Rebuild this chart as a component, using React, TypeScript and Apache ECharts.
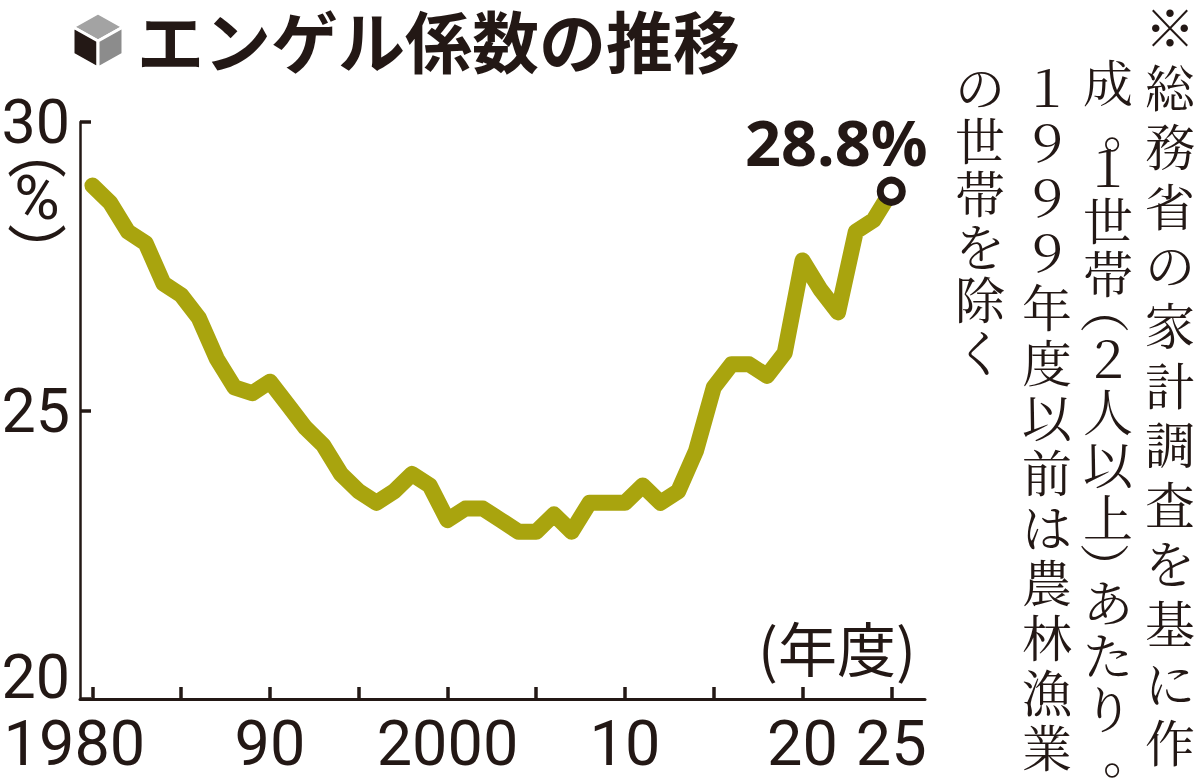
import React, { useEffect, useRef } from "react";
import * as echarts from "echarts";

// ---- data ----
const years = [
  1980, 1981, 1982, 1983, 1984, 1985, 1986, 1987, 1988, 1989,
  1990, 1991, 1992, 1993, 1994, 1995, 1996, 1997, 1998, 1999,
  2000, 2001, 2002, 2003, 2004, 2005, 2006, 2007, 2008, 2009,
  2010, 2011, 2012, 2013, 2014, 2015, 2016, 2017, 2018, 2019,
  2020, 2021, 2022, 2023, 2024, 2025,
];
const engel = [
  28.9, 28.6, 28.1, 27.9, 27.2, 27.0, 26.6, 25.9, 25.4, 25.3,
  25.5, 25.1, 24.7, 24.4, 23.9, 23.6, 23.4, 23.6, 23.9, 23.7,
  23.1, 23.3, 23.3, 23.1, 22.9, 22.9, 23.2, 22.9, 23.4, 23.4,
  23.4, 23.7, 23.4, 23.6, 24.3, 25.4, 25.8, 25.8, 25.6, 26.0,
  27.6, 27.1, 26.7, 28.1, 28.3, 28.8,
];
const yTicks = [20, 25, 30];
const xTickYears = [1980, 1985, 1990, 1995, 2000, 2005, 2010, 2015, 2020, 2025];
const xLabelYears = [1980, 1990, 2000, 2010, 2020, 2025];
const xLabelTexts = ["1980", "90", "2000", "10", "20", "25"];
const titleText = "エンゲル係数の推移";
const unitText = "(年度)";
const yUnitText = "(%)";
const lastLabel = "28.8%";
const noteColumns = [
  "※総務省の家計調査を基に作",
  "成。１世帯（２人以上）あたり。",
  "１９９９年度以前は農林漁業",
  "の世帯を除く",
];

// ---- layout / style ----
const INK = "#231815";
const OLIVE = "#a9a40e";
const NUM_FONT = 'Roboto, "Noto Sans", sans-serif';
const CJK_SANS = '"Noto Sans CJK JP", "Noto Sans", sans-serif';
const CJK_NOTE = '"Noto Serif CJK JP", "Noto Sans CJK JP", serif';
const X_NUM_SIZE = 63;
const Y_NUM_SIZE = 61;
const NOTE_SIZE = 50;
const NOTE_LAYOUT = [
  { x: 1170, y0: 25, full: 59.6, half: 59.6 },
  { x: 1108, y0: 80, full: 53, half: 32 },
  { x: 1047, y0: 85, full: 55, half: 55 },
  { x: 980, y0: 85, full: 53, half: 53 },
];
// offsets used to set punctuation in vertical writing
const PUNCT_OFFSET: Record<string, { dx: number; dy: number; rot: number }> = {
  "。": { dx: 20, dy: 2, rot: 0 },
  "（": { dx: 0, dy: -5, rot: -Math.PI / 2 },
  "）": { dx: 0, dy: 10, rot: -Math.PI / 2 },
};

const VERTICAL_FORM: Record<string, string> = { "(": "︵", ")": "︶" };

function isPunct(c: string) {
  return c === "。" || c === "（" || c === "）";
}

function noteGraphics() {
  const out: any[] = [];
  noteColumns.forEach((col, ci) => {
    const L = NOTE_LAYOUT[ci];
    const chars = Array.from(col);
    let cy = L.y0;
    chars.forEach((c, i) => {
      if (i > 0) {
        const a1 = isPunct(chars[i - 1]) ? L.half : L.full;
        const a2 = isPunct(c) ? L.half : L.full;
        cy += (a1 + a2) / 2;
      }
      const off = PUNCT_OFFSET[c] || { dx: 0, dy: 0, rot: 0 };
      out.push({
        type: "text",
        x: L.x + off.dx,
        y: cy + off.dy,
        rotation: off.rot,
        style: {
          text: c,
          fill: INK,
          font: `normal ${NOTE_SIZE}px ${CJK_NOTE}`,
          textAlign: "center",
          textVerticalAlign: "middle",
        },
      });
    });
  });
  return out;
}

function yUnitGraphic() {
  const chars = Array.from(yUnitText);
  const text = chars
    .map((c) => (VERTICAL_FORM[c] ? `{p|${VERTICAL_FORM[c]}}` : `{c|${c}}`))
    .join("\n");
  return {
    type: "text",
    x: 37,
    y: 130,
    style: {
      text,
      fill: INK,
      font: `normal 60px ${CJK_SANS}`,
      textAlign: "center",
      textVerticalAlign: "top",
      rich: {
        p: { fontSize: 60, fontFamily: CJK_SANS, color: INK, lineHeight: 30, align: "center" },
        c: { fontSize: 62, fontFamily: NUM_FONT, color: INK, lineHeight: 74, align: "center" },
      },
    },
  };
}

function cubeIcon() {
  const cx = 98, top = 13, bot = 68, l = 73, r = 123, uy = 27, ly = 54, my = 41;
  const stroke = { stroke: "#ffffff", lineWidth: 3, lineJoin: "round" };
  return [
    { type: "polygon", shape: { points: [[cx, top], [r, uy], [cx, my], [l, uy]] }, style: { fill: "#a3a3a3", ...stroke } },
    { type: "polygon", shape: { points: [[l, uy], [cx, my], [cx, bot], [l, ly]] }, style: { fill: INK, ...stroke } },
    { type: "polygon", shape: { points: [[cx, my], [r, uy], [r, ly], [cx, bot]] }, style: { fill: "#8c8c8c", ...stroke } },
  ];
}

export default function App() {
  const ref = useRef<HTMLDivElement>(null);
  useEffect(() => {
    if (!ref.current) return;
    const chart = echarts.init(ref.current, undefined, { renderer: "svg" });
    const lineData = years.map((y, i) => [y, engel[i]]);
    const last = [years[years.length - 1], engel[engel.length - 1]];
    const option: any = {
      animation: false,
      backgroundColor: "#ffffff",
      grid: { left: 80, right: 275, top: 122, bottom: 80, containLabel: false, outerBoundsMode: "none" },
      xAxis: {
        type: "value",
        min: 1979.3,
        max: 2026.9,
        splitLine: { show: false },
        axisLine: { show: true, onZero: false, lineStyle: { color: INK, width: 3 } },
        axisTick: {
          show: true,
          inside: true,
          length: 12,
          customValues: xTickYears,
          lineStyle: { color: INK, width: 3.5 },
        },
        axisLabel: {
          show: true,
          customValues: xLabelYears,
          margin: 13,
          color: INK,
          fontSize: X_NUM_SIZE,
          fontFamily: NUM_FONT,
          hideOverlap: false,
          formatter: (v: number) => {
            const idx = xLabelYears.indexOf(Math.round(v));
            const t = idx >= 0 ? xLabelTexts[idx] : "";
            return idx === 0 ? `{s|${t}}` : t;
          },
          rich: {
            s: { fontSize: X_NUM_SIZE, fontFamily: NUM_FONT, color: INK, padding: [0, 36, 0, 0] },
          },
        },
      },
      yAxis: {
        type: "value",
        min: yTicks[0],
        max: yTicks[yTicks.length - 1],
        interval: 5,
        splitLine: { show: false },
        axisLine: { show: true, lineStyle: { color: INK, width: 2.5 } },
        axisTick: { show: true, inside: true, length: 11, lineStyle: { color: INK, width: 3.5 } },
        axisLabel: {
          show: true,
          margin: 10,
          color: INK,
          fontSize: Y_NUM_SIZE,
          fontFamily: NUM_FONT,
          formatter: (v: number) => (v === yTicks[0] ? `{b|${v}}` : `{a|${v}}`),
          rich: {
            a: { fontSize: Y_NUM_SIZE, fontFamily: NUM_FONT, color: INK },
            b: { fontSize: Y_NUM_SIZE, fontFamily: NUM_FONT, color: INK, padding: [0, 0, 44, 0] },
          },
        },
      },
      series: [
        {
          type: "line",
          data: lineData,
          symbol: "none",
          lineStyle: { color: OLIVE, width: 16, cap: "round", join: "round" },
          z: 2,
        },
        {
          type: "scatter",
          data: [last],
          symbol: "circle",
          symbolSize: 22,
          itemStyle: { color: "#ffffff", borderColor: INK, borderWidth: 7, opacity: 1 },
          label: {
            show: true,
            position: "top",
            distance: 4,
            offset: [-55, 0],
            formatter: lastLabel,
            color: INK,
            fontSize: 63,
            fontWeight: "bold",
            fontFamily: '"Noto Sans", sans-serif',
          },
          z: 5,
        },
      ],
      graphic: [
        ...cubeIcon(),
        {
          type: "text",
          x: 137,
          y: 38,
          style: {
            text: titleText,
            fill: INK,
            font: `bold 67px ${CJK_SANS}`,
            textAlign: "left",
            textVerticalAlign: "middle",
          },
        },
        {
          type: "text",
          x: 837,
          y: 646,
          style: {
            text: unitText,
            fill: INK,
            font: `normal 59px ${CJK_SANS}`,
            textAlign: "center",
            textVerticalAlign: "middle",
          },
        },
        yUnitGraphic(),
        ...noteGraphics(),
      ],
    };
    chart.setOption(option);
    return () => chart.dispose();
  }, []);
  return (
    <div
      ref={ref}
      style={{ position: "fixed", left: 0, top: 0, width: 1200, height: 779, background: "#fff" }}
    />
  );
}
